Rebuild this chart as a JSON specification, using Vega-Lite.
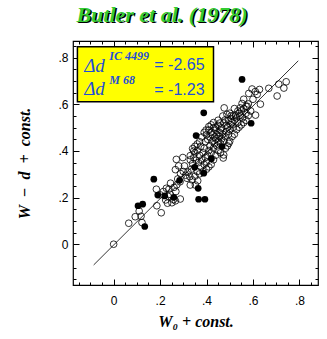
{
  "$schema": "https://vega.github.io/schema/vega-lite/v6.json",
  "width": 245,
  "height": 244,
  "autosize": {"type": "none"},
  "padding": {"left": 73, "top": 41, "right": 9, "bottom": 54},
  "background": "white",
  "config": {
    "view": {"stroke": "black", "strokeWidth": 1.2},
    "axis": {"domain": false, "grid": false, "labelFont": "Liberation Sans", "labelFontSize": 12, "labelColor": "black", "tickColor": "black", "tickWidth": 1, "titleFont": "Liberation Serif", "titleFontStyle": "italic", "titleFontWeight": "bold", "titleFontSize": 16, "titleColor": "black"}
  },
  "datasets": {
    "pts": [
      {"x":0,"y":0,"g":"o"},{"x":0.065,"y":0.09,"g":"o"},{"x":0.093,"y":0.118,"g":"o"},{"x":0.11,"y":0.142,"g":"o"},{"x":0.118,"y":0.12,"g":"o"},{"x":0.122,"y":0.093,"g":"o"},{"x":0.186,"y":0.165,"g":"o"},{"x":0.205,"y":0.135,"g":"o"},{"x":0.184,"y":0.236,"g":"o"},{"x":0.2,"y":0.212,"g":"o"},
      {"x":0.214,"y":0.226,"g":"o"},{"x":0.227,"y":0.24,"g":"o"},{"x":0.238,"y":0.236,"g":"o"},{"x":0.245,"y":0.262,"g":"o"},{"x":0.232,"y":0.176,"g":"o"},{"x":0.224,"y":0.19,"g":"o"},{"x":0.251,"y":0.178,"g":"o"},{"x":0.258,"y":0.192,"g":"o"},{"x":0.243,"y":0.214,"g":"o"},{"x":0.235,"y":0.205,"g":"o"},
      {"x":0.266,"y":0.186,"g":"o"},{"x":0.268,"y":0.226,"g":"o"},{"x":0.287,"y":0.194,"g":"o"},{"x":0.26,"y":0.244,"g":"o"},{"x":0.272,"y":0.255,"g":"o"},{"x":0.276,"y":0.28,"g":"o"},{"x":0.286,"y":0.268,"g":"o"},{"x":0.27,"y":0.364,"g":"o"},{"x":0.298,"y":0.372,"g":"o"},{"x":0.28,"y":0.336,"g":"o"},
      {"x":0.305,"y":0.336,"g":"o"},{"x":0.266,"y":0.32,"g":"o"},{"x":0.288,"y":0.303,"g":"o"},{"x":0.31,"y":0.296,"g":"o"},{"x":0.316,"y":0.283,"g":"o"},{"x":0.328,"y":0.29,"g":"o"},{"x":0.33,"y":0.254,"g":"o"},{"x":0.352,"y":0.254,"g":"o"},{"x":0.338,"y":0.276,"g":"o"},{"x":0.3,"y":0.312,"g":"o"},
      {"x":0.32,"y":0.31,"g":"o"},{"x":0.335,"y":0.322,"g":"o"},{"x":0.34,"y":0.346,"g":"o"},{"x":0.33,"y":0.362,"g":"o"},{"x":0.345,"y":0.372,"g":"o"},{"x":0.35,"y":0.392,"g":"o"},{"x":0.36,"y":0.402,"g":"o"},{"x":0.355,"y":0.36,"g":"o"},{"x":0.365,"y":0.35,"g":"o"},{"x":0.37,"y":0.382,"g":"o"},
      {"x":0.375,"y":0.332,"g":"o"},{"x":0.38,"y":0.362,"g":"o"},{"x":0.385,"y":0.392,"g":"o"},{"x":0.39,"y":0.412,"g":"o"},{"x":0.395,"y":0.372,"g":"o"},{"x":0.4,"y":0.352,"g":"o"},{"x":0.405,"y":0.382,"g":"o"},{"x":0.41,"y":0.402,"g":"o"},{"x":0.415,"y":0.422,"g":"o"},{"x":0.42,"y":0.392,"g":"o"},
      {"x":0.425,"y":0.442,"g":"o"},{"x":0.43,"y":0.412,"g":"o"},{"x":0.435,"y":0.432,"g":"o"},{"x":0.44,"y":0.452,"g":"o"},{"x":0.445,"y":0.422,"g":"o"},{"x":0.45,"y":0.442,"g":"o"},{"x":0.455,"y":0.462,"g":"o"},{"x":0.46,"y":0.432,"g":"o"},{"x":0.465,"y":0.452,"g":"o"},{"x":0.47,"y":0.472,"g":"o"},
      {"x":0.475,"y":0.442,"g":"o"},{"x":0.48,"y":0.462,"g":"o"},{"x":0.485,"y":0.482,"g":"o"},{"x":0.49,"y":0.502,"g":"o"},{"x":0.495,"y":0.472,"g":"o"},{"x":0.5,"y":0.492,"g":"o"},{"x":0.505,"y":0.512,"g":"o"},{"x":0.51,"y":0.522,"g":"o"},{"x":0.515,"y":0.502,"g":"o"},{"x":0.52,"y":0.532,"g":"o"},
      {"x":0.525,"y":0.552,"g":"o"},{"x":0.53,"y":0.542,"g":"o"},{"x":0.535,"y":0.522,"g":"o"},{"x":0.54,"y":0.562,"g":"o"},{"x":0.545,"y":0.552,"g":"o"},{"x":0.55,"y":0.572,"g":"o"},{"x":0.555,"y":0.542,"g":"o"},{"x":0.56,"y":0.582,"g":"o"},{"x":0.57,"y":0.562,"g":"o"},{"x":0.575,"y":0.592,"g":"o"},
      {"x":0.37,"y":0.44,"g":"o"},{"x":0.38,"y":0.46,"g":"o"},{"x":0.39,"y":0.48,"g":"o"},{"x":0.4,"y":0.47,"g":"o"},{"x":0.41,"y":0.49,"g":"o"},{"x":0.42,"y":0.48,"g":"o"},{"x":0.43,"y":0.5,"g":"o"},{"x":0.44,"y":0.49,"g":"o"},{"x":0.45,"y":0.51,"g":"o"},{"x":0.46,"y":0.49,"g":"o"},
      {"x":0.36,"y":0.43,"g":"o"},{"x":0.35,"y":0.42,"g":"o"},{"x":0.34,"y":0.41,"g":"o"},{"x":0.33,"y":0.38,"g":"o"},{"x":0.345,"y":0.4,"g":"o"},{"x":0.375,"y":0.42,"g":"o"},{"x":0.395,"y":0.44,"g":"o"},{"x":0.405,"y":0.45,"g":"o"},{"x":0.415,"y":0.46,"g":"o"},{"x":0.425,"y":0.47,"g":"o"},
      {"x":0.435,"y":0.46,"g":"o"},{"x":0.445,"y":0.47,"g":"o"},{"x":0.455,"y":0.48,"g":"o"},{"x":0.465,"y":0.5,"g":"o"},{"x":0.475,"y":0.52,"g":"o"},{"x":0.485,"y":0.51,"g":"o"},{"x":0.495,"y":0.53,"g":"o"},{"x":0.505,"y":0.54,"g":"o"},{"x":0.515,"y":0.55,"g":"o"},{"x":0.488,"y":0.557,"g":"o"},
      {"x":0.506,"y":0.551,"g":"o"},{"x":0.48,"y":0.533,"g":"o"},{"x":0.47,"y":0.55,"g":"o"},{"x":0.458,"y":0.52,"g":"o"},{"x":0.496,"y":0.433,"g":"o"},{"x":0.474,"y":0.383,"g":"o"},{"x":0.472,"y":0.37,"g":"o"},{"x":0.46,"y":0.392,"g":"o"},{"x":0.45,"y":0.402,"g":"o"},{"x":0.44,"y":0.382,"g":"o"},
      {"x":0.43,"y":0.362,"g":"o"},{"x":0.42,"y":0.342,"g":"o"},{"x":0.41,"y":0.332,"g":"o"},{"x":0.4,"y":0.322,"g":"o"},{"x":0.39,"y":0.342,"g":"o"},{"x":0.385,"y":0.312,"g":"o"},{"x":0.37,"y":0.302,"g":"o"},{"x":0.36,"y":0.312,"g":"o"},{"x":0.362,"y":0.272,"g":"o"},{"x":0.35,"y":0.292,"g":"o"},
      {"x":0.482,"y":0.412,"g":"o"},{"x":0.49,"y":0.422,"g":"o"},{"x":0.5,"y":0.442,"g":"o"},{"x":0.51,"y":0.462,"g":"o"},{"x":0.52,"y":0.472,"g":"o"},{"x":0.53,"y":0.492,"g":"o"},{"x":0.54,"y":0.502,"g":"o"},{"x":0.55,"y":0.512,"g":"o"},{"x":0.56,"y":0.522,"g":"o"},{"x":0.57,"y":0.532,"g":"o"},
      {"x":0.58,"y":0.552,"g":"o"},{"x":0.59,"y":0.572,"g":"o"},{"x":0.582,"y":0.647,"g":"o"},{"x":0.596,"y":0.666,"g":"o"},{"x":0.618,"y":0.643,"g":"o"},{"x":0.628,"y":0.664,"g":"o"},{"x":0.61,"y":0.655,"g":"o"},{"x":0.668,"y":0.669,"g":"o"},{"x":0.704,"y":0.636,"g":"o"},{"x":0.711,"y":0.687,"g":"o"},
      {"x":0.733,"y":0.67,"g":"o"},{"x":0.743,"y":0.697,"g":"o"},{"x":0.632,"y":0.601,"g":"o"},{"x":0.611,"y":0.554,"g":"o"},{"x":0.553,"y":0.604,"g":"o"},{"x":0.545,"y":0.585,"g":"o"},{"x":0.57,"y":0.592,"g":"o"},{"x":0.58,"y":0.602,"g":"o"},{"x":0.6,"y":0.622,"g":"o"},{"x":0.56,"y":0.622,"g":"o"},
      {"x":0.535,"y":0.572,"g":"o"},{"x":0.52,"y":0.582,"g":"o"},{"x":0.5,"y":0.562,"g":"o"},{"x":0.476,"y":0.585,"g":"o"},{"x":0.44,"y":0.502,"g":"o"},{"x":0.45,"y":0.532,"g":"o"},{"x":0.398,"y":0.49,"g":"o"},{"x":0.43,"y":0.522,"g":"o"},{"x":0.42,"y":0.512,"g":"o"},{"x":0.41,"y":0.505,"g":"o"},
      {"x":0.553,"y":0.707,"g":"f"},{"x":0.388,"y":0.564,"g":"f"},{"x":0.592,"y":0.519,"g":"f"},{"x":0.355,"y":0.466,"g":"f"},{"x":0.467,"y":0.419,"g":"f"},{"x":0.421,"y":0.367,"g":"f"},{"x":0.349,"y":0.33,"g":"f"},{"x":0.284,"y":0.274,"g":"f"},{"x":0.388,"y":0.305,"g":"f"},{"x":0.364,"y":0.24,"g":"f"},
      {"x":0.366,"y":0.193,"g":"f"},{"x":0.393,"y":0.193,"g":"f"},{"x":0.173,"y":0.279,"g":"f"},{"x":0.19,"y":0.211,"g":"f"},{"x":0.22,"y":0.207,"g":"f"},{"x":0.259,"y":0.201,"g":"f"},{"x":0.105,"y":0.165,"g":"f"},{"x":0.125,"y":0.172,"g":"f"},{"x":0.134,"y":0.076,"g":"f"}
    ],
    "fit": [{"x": -0.086, "y": -0.089}, {"x": 0.795, "y": 0.787}],
    "one": [{}]
  },
  "layer": [
    {
      "data": {"name": "fit"},
      "mark": {"type": "line", "color": "black", "strokeWidth": 0.8},
      "encoding": {
        "x": {"field": "x", "type": "quantitative", "scale": {"domain": [-0.175, 0.88], "nice": false, "zero": false},
          "axis": {"orient": "top", "values": [-0.15,-0.1,-0.05,0,0.05,0.1,0.15,0.2,0.25,0.3,0.35,0.4,0.45,0.5,0.55,0.6,0.65,0.7,0.75,0.8,0.85], "labels": false, "title": null,
            "tickSize": {"condition": {"test": "abs(datum.value*5 - round(datum.value*5)) < 0.01", "value": -6}, "value": -3}}},
        "y": {"field": "y", "type": "quantitative", "scale": {"domain": [-0.175, 0.872], "nice": false, "zero": false},
          "axis": {"orient": "right", "values": [-0.15,-0.1,-0.05,0,0.05,0.1,0.15,0.2,0.25,0.3,0.35,0.4,0.45,0.5,0.55,0.6,0.65,0.7,0.75,0.8,0.85], "labels": false, "title": null,
            "tickSize": {"condition": {"test": "abs(datum.value*5 - round(datum.value*5)) < 0.01", "value": -6}, "value": -3}}}
      }
    },
    {
      "data": {"name": "pts"},
      "transform": [{"filter": "datum.g == 'o'"}],
      "mark": {"type": "point", "shape": "circle", "filled": false, "stroke": "black", "strokeWidth": 0.8, "size": 45, "opacity": 1},
      "encoding": {
        "x": {"field": "x", "type": "quantitative", "title": "W₀ + const.",
          "axis": {"orient": "bottom", "values": [-0.15,-0.1,-0.05,0,0.05,0.1,0.15,0.2,0.25,0.3,0.35,0.4,0.45,0.5,0.55,0.6,0.65,0.7,0.75,0.8,0.85],
            "labelExpr": "abs(datum.value*5 - round(datum.value*5)) < 0.01 ? (datum.value == 0 ? '0' : replace(format(datum.value, '.1f'), '0.', '.')) : ''",
            "tickSize": {"condition": {"test": "abs(datum.value*5 - round(datum.value*5)) < 0.01", "value": -6}, "value": -3},
            "labelPadding": 16, "titlePadding": 7}},
        "y": {"field": "y", "type": "quantitative", "title": "W\u00a0\u00a0−\u00a0\u00a0d\u00a0\u00a0+\u00a0\u00a0const.",
          "axis": {"orient": "left", "values": [-0.15,-0.1,-0.05,0,0.05,0.1,0.15,0.2,0.25,0.3,0.35,0.4,0.45,0.5,0.55,0.6,0.65,0.7,0.75,0.8,0.85],
            "labelExpr": "abs(datum.value*5 - round(datum.value*5)) < 0.01 ? (datum.value == 0 ? '0' : replace(format(datum.value, '.1f'), '0.', '.')) : ''",
            "tickSize": {"condition": {"test": "abs(datum.value*5 - round(datum.value*5)) < 0.01", "value": -6}, "value": -3},
            "labelPadding": 11, "titlePadding": 25}}
      }
    },
    {
      "data": {"name": "pts"},
      "transform": [{"filter": "datum.g == 'f'"}],
      "mark": {"type": "point", "shape": "circle", "filled": true, "fill": "black", "size": 45, "opacity": 1},
      "encoding": {
        "x": {"field": "x", "type": "quantitative", "axis": null},
        "y": {"field": "y", "type": "quantitative", "axis": null}
      }
    },
    {
      "data": {"name": "one"},
      "mark": {"type": "rect", "fill": "#ffff00", "stroke": "black", "strokeWidth": 1.5},
      "encoding": {
        "x": {"datum": -0.156, "type": "quantitative", "axis": null},
        "x2": {"datum": 0.43},
        "y": {"datum": 0.611, "type": "quantitative", "axis": null},
        "y2": {"datum": 0.847}
      }
    },
    {
      "data": {"name": "one"},
      "mark": {"type": "text", "text": "Δd", "font": "Liberation Serif", "fontStyle": "italic", "fontSize": 19, "color": "#1f4fd6", "align": "left", "baseline": "middle"},
      "encoding": {"x": {"datum": -0.127, "type": "quantitative", "axis": null}, "y": {"datum": 0.765, "type": "quantitative", "axis": null}}
    },
    {
      "data": {"name": "one"},
      "mark": {"type": "text", "text": "Δd", "font": "Liberation Serif", "fontStyle": "italic", "fontSize": 19, "color": "#1f4fd6", "align": "left", "baseline": "middle"},
      "encoding": {"x": {"datum": -0.127, "type": "quantitative", "axis": null}, "y": {"datum": 0.667, "type": "quantitative", "axis": null}}
    },
    {
      "data": {"name": "one"},
      "mark": {"type": "text", "text": "IC  4499", "font": "Liberation Serif", "fontStyle": "italic", "fontWeight": "bold", "fontSize": 12, "color": "#1f4fd6", "align": "left", "baseline": "middle"},
      "encoding": {"x": {"datum": -0.0185, "type": "quantitative", "axis": null}, "y": {"datum": 0.808, "type": "quantitative", "axis": null}}
    },
    {
      "data": {"name": "one"},
      "mark": {"type": "text", "text": "M  68", "font": "Liberation Serif", "fontStyle": "italic", "fontWeight": "bold", "fontSize": 12, "color": "#1f4fd6", "align": "left", "baseline": "middle"},
      "encoding": {"x": {"datum": -0.0185, "type": "quantitative", "axis": null}, "y": {"datum": 0.706, "type": "quantitative", "axis": null}}
    },
    {
      "data": {"name": "one"},
      "mark": {"type": "text", "text": "= -2.65", "font": "Liberation Sans", "fontSize": 16, "color": "#1f4fd6", "align": "left", "baseline": "middle"},
      "encoding": {"x": {"datum": 0.175, "type": "quantitative", "axis": null}, "y": {"datum": 0.767, "type": "quantitative", "axis": null}}
    },
    {
      "data": {"name": "one"},
      "mark": {"type": "text", "text": "= -1.23", "font": "Liberation Sans", "fontSize": 16, "color": "#1f4fd6", "align": "left", "baseline": "middle"},
      "encoding": {"x": {"datum": 0.175, "type": "quantitative", "axis": null}, "y": {"datum": 0.662, "type": "quantitative", "axis": null}}
    },
    {
      "data": {"name": "one"},
      "mark": {"type": "text", "text": "Butler et al. (1978)", "font": "Liberation Serif", "fontStyle": "italic", "fontWeight": "bold", "fontSize": 22, "color": "black", "align": "center", "baseline": "middle", "dx": 1.5, "dy": 1.5},
      "encoding": {"x": {"datum": 0.208, "type": "quantitative", "axis": null}, "y": {"datum": 0.984, "type": "quantitative", "axis": null}}
    },
    {
      "data": {"name": "one"},
      "mark": {"type": "text", "text": "Butler et al. (1978)", "font": "Liberation Serif", "fontStyle": "italic", "fontWeight": "bold", "fontSize": 22, "color": "#33cc33", "align": "center", "baseline": "middle"},
      "encoding": {"x": {"datum": 0.208, "type": "quantitative", "axis": null}, "y": {"datum": 0.984, "type": "quantitative", "axis": null}}
    }
  ],
  "resolve": {"axis": {"x": "independent", "y": "independent"}}
}
